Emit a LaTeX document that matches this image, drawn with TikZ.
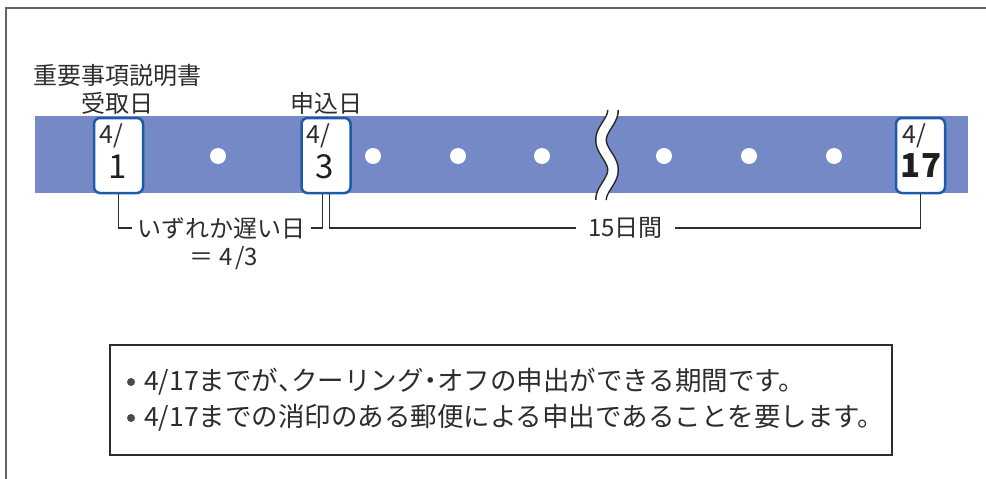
\documentclass[tikz,border=0pt]{standalone}
\usepackage{fontspec}
\setmainfont{Noto Sans CJK JP}
\usetikzlibrary{calc}
\definecolor{bandc}{RGB}{116,137,198}
\definecolor{boxblue}{RGB}{30,90,170}
\definecolor{ink}{RGB}{45,45,45}
\definecolor{framec}{RGB}{100,100,100}
\newcommand{\halfcomma}{\makebox[0.5em][l]{、}}
\newcommand{\halfdot}{\makebox[0.5em][c]{・}}
\begin{document}
\begin{tikzpicture}[x=1pt,y=-1pt,
  datebox/.style={draw=boxblue, line width=2.5pt, fill=white, rounded corners=6pt,
    minimum width=49pt, minimum height=75pt, inner sep=0pt},
  lbl/.style={text=ink, font=\fontsize{24}{28}\selectfont, inner sep=0pt},
  small/.style={text=ink, font=\fontsize{25}{27}\selectfont, inner sep=0pt},
  big/.style={text=black!88, font=\fontsize{33}{36}\selectfont, inner sep=0pt},
  bigb/.style={text=black!88, font=\fontsize{33}{36}\selectfont\bfseries, inner sep=0pt},
  dotw/.style={circle, fill=white, minimum size=16pt, inner sep=0pt},
  conn/.style={draw=ink, line width=1.2pt},
  bodytxt/.style={text=ink, font=\fontsize{26.5}{30}\selectfont, inner sep=0pt},
  bullet/.style={circle, fill=ink!85, minimum size=8pt, inner sep=0pt}
]
\useasboundingbox (0,0) rectangle (986,479);
% outer frame
\draw[framec, line width=2pt] (986,8) -- (6,8) -- (6,479);
% band
\node[fill=bandc, minimum width=933pt, minimum height=77pt, inner sep=0pt] (band) at (501.5,154.5) {};
% wavy break
\draw[black!85, line width=12pt] plot[domain=110:200, samples=80, smooth] ({607+6*cos(6*(\x-110))}, \x);
\draw[white, line width=9pt] plot[domain=108:202, samples=80, smooth] ({607+6*cos(6*(\x-110))}, \x);
% dots
\foreach \i/\xx in {1/218, 2/373, 3/458, 4/542, 5/664, 6/749, 7/834}
  \node[dotw] (d\i) at (\xx,156) {};
% date boxes
\node[datebox] (b1) at (118.5,155.5) {};
\node[datebox] (b3) at (326,155.5) {};
\node[datebox] (b17) at (920.5,155.5) {};
\node[small, anchor=west] (m1) at (99,136) {4/};
\node[big] (n1) at (117.5,167) {1};
\node[small, anchor=west] (m3) at (306,136) {4/};
\node[big] (n3) at (325,167) {3};
\node[small, anchor=west] (m17) at (902,136) {4/};
\node[bigb] (n17) at (921,166) {17};
% labels
\node[lbl, anchor=west] (doc) at (33,75) {重要事項説明書};
\node[lbl] (recv) at (117,103) {受取日};
\node[lbl] (appl) at (326,103) {申込日};
\node[lbl, inner xsep=5pt] (t1) at (221.5,228) {いずれか遅い日};
\node[lbl] (eq) at (224,258) {＝ 4\kern3pt/3};
\node[lbl, inner xsep=12pt] (t15) at (625.5,228) {15日間};
% connectors
\coordinate (b3l) at ($(b3.south)+(-3.5,0)$);
\coordinate (b3r) at ($(b3.south)+(3.5,0)$);
\draw[conn] (b1.south) |- (t1.west);
\draw[conn] (t1.east) -| (b3l);
\draw[conn] (b3r) |- (t15.west);
\draw[conn] (t15.east) -| (b17.south);
% note box
\node[draw=ink, line width=1.2pt, minimum width=782pt, minimum height=110pt, inner sep=0pt] (note) at (501,400) {};
\node[bullet] (bl1) at (131,382) {};
\node[bullet] (bl2) at (131,418) {};
\node[bodytxt, anchor=west] (l1) at (144,382) {4/17までが\halfcomma クーリング\halfdot オフの申出ができる期間です。};
\node[bodytxt, anchor=west] (l2) at (144,418) {4/17までの消印のある郵便による申出であることを要します。};
\end{tikzpicture}
\end{document}
